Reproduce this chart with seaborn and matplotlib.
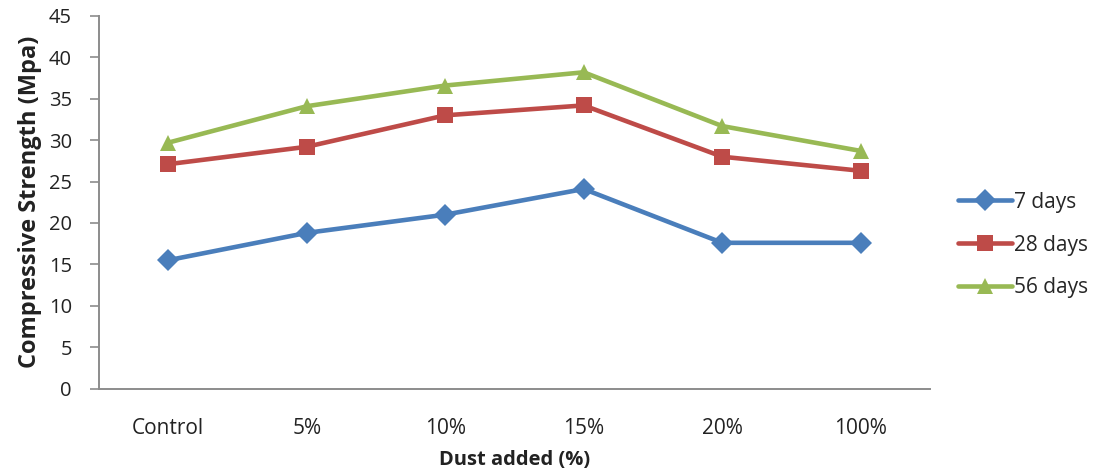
import matplotlib
matplotlib.use("Agg")
import matplotlib.pyplot as plt
import seaborn as sns
import pandas as pd

categories = ["Control", "5%", "10%", "15%", "20%", "100%"]
days_7 = [15.5, 18.8, 21.0, 24.1, 17.6, 17.6]
days_28 = [27.1, 29.2, 33.0, 34.2, 28.0, 26.3]
days_56 = [29.7, 34.1, 36.6, 38.2, 31.7, 28.7]
series_names = ["7 days", "28 days", "56 days"]

rows = []
for name, vals in zip(series_names, [days_7, days_28, days_56]):
    for cat, v in zip(categories, vals):
        rows.append({"Dust": cat, "Strength": v, "Age": name})
df = pd.DataFrame(rows)

sns.set_theme(style="white")
plt.rcParams["font.family"] = ["Open Sans", "DejaVu Sans"]

palette = {"7 days": "#4A7EBB", "28 days": "#BE4B48", "56 days": "#98B954"}
markers = {"7 days": "D", "28 days": "s", "56 days": "^"}

fig = plt.figure(figsize=(11.04, 4.72), dpi=100)
ax = fig.add_axes([99 / 1104, 1 - 388.5 / 472, (930 - 99) / 1104, (388.5 - 16) / 472])

sns.lineplot(data=df, x="Dust", y="Strength", hue="Age", style="Age",
             markers=markers, dashes=False, palette=palette, sort=False,
             linewidth=3.3, markersize=11, markeredgewidth=0, ax=ax)

ax.set_xlim(-0.5, len(categories) - 0.5)
ax.set_ylim(0, 45)
ax.set_yticks(range(0, 46, 5))

for side in ["top", "right"]:
    ax.spines[side].set_visible(False)
for side in ["left", "bottom"]:
    ax.spines[side].set_color("#8c8c8c")
    ax.spines[side].set_linewidth(1.4)

ax.tick_params(axis="y", which="major", direction="out", length=6.5, width=1.2,
               color="#8c8c8c", left=True, pad=13, labelsize=14.5, labelcolor="#222222")
ax.tick_params(axis="x", which="major", bottom=False, pad=15, labelsize=15,
               labelcolor="#222222")

ax.set_xlabel("Dust added (%)", fontsize=14.5, fontweight="bold", color="#222222",
              labelpad=8)
ax.set_ylabel("Compressive Strength (Mpa)", fontsize=17, fontweight="bold",
              color="#222222", labelpad=5)

handles, labels = ax.get_legend_handles_labels()
ax.legend(handles, labels, loc="center left", bbox_to_anchor=(958 / 1104, 1 - 245 / 472),
          bbox_transform=fig.transFigure, frameon=False, fontsize=15,
          handlelength=2.6, handletextpad=0.1, labelspacing=1.05,
          borderaxespad=0, borderpad=0)

fig.savefig("out.png", dpi=100)
